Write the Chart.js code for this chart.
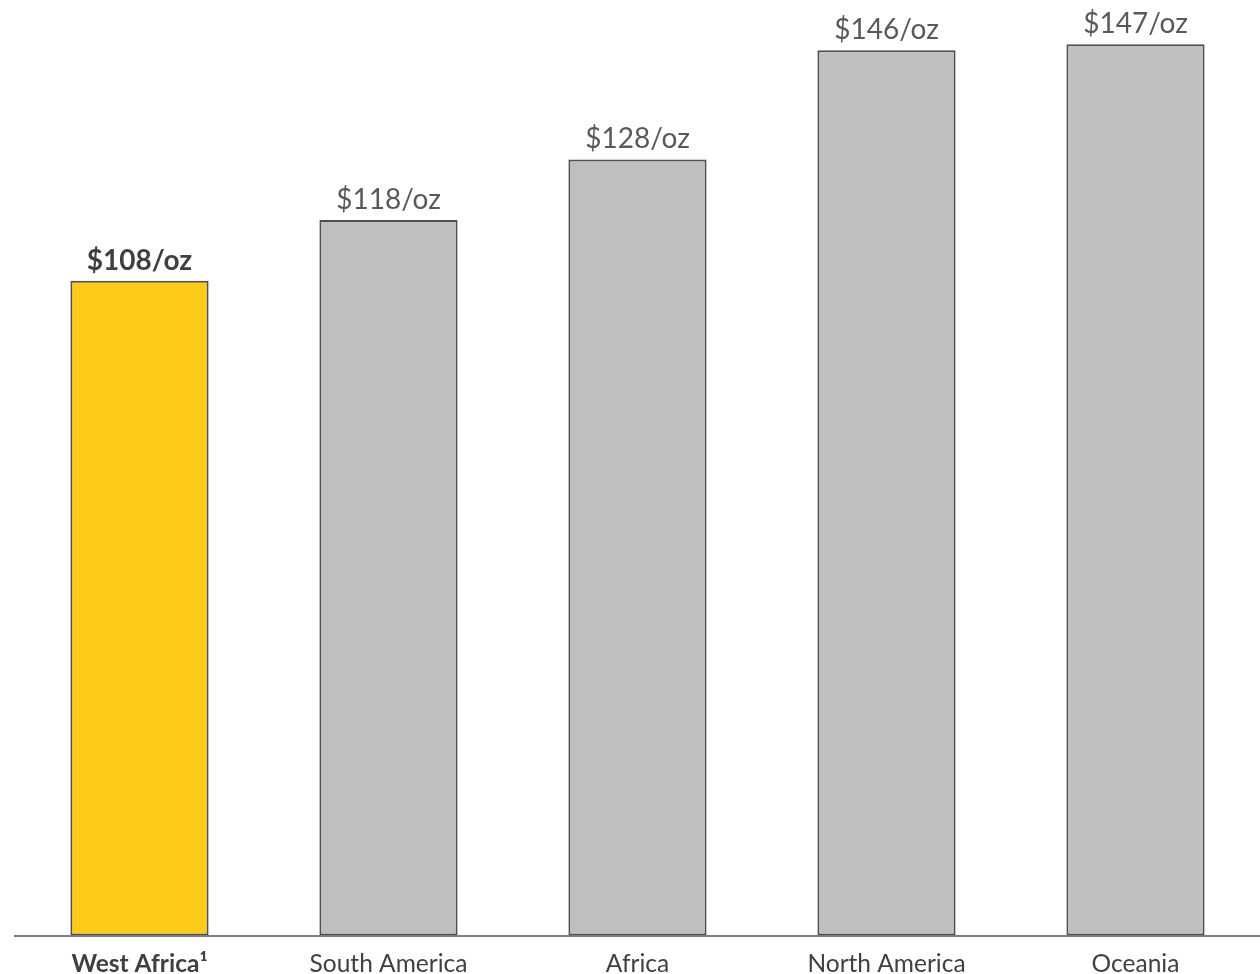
<!DOCTYPE html>
<html>
<head>
<meta charset="utf-8">
<script src="https://cdn.jsdelivr.net/npm/chart.js@4.4.1/dist/chart.umd.min.js"></script>
<style>
  html, body { margin: 0; padding: 0; background: #fff; }
  #wrap { width: 1260px; height: 974px; position: relative; }
</style>
</head>
<body>
<div id="wrap"><canvas id="costChart"></canvas></div>
<script>
// === Data ===
const regions = ['West Africa¹', 'South America', 'Africa', 'North America', 'Oceania'];
const costPerOz = [108, 118, 128, 146, 147];
const valueLabels = ['$108/oz', '$118/oz', '$128/oz', '$146/oz', '$147/oz'];

const FONT = "'Lato', 'Open Sans', sans-serif";

// value labels above each bar
const barLabels = {
    id: 'barLabels',
    afterDatasetsDraw(chart) {
        const ctx = chart.ctx;
        const meta = chart.getDatasetMeta(0);
        ctx.save();
        ctx.textAlign = 'center';
        ctx.textBaseline = 'alphabetic';
        meta.data.forEach((bar, i) => {
            ctx.font = (i === 0 ? 'bold ' : '') + '28px ' + FONT;
            ctx.fillStyle = i === 0 ? '#404040' : '#595959';
            ctx.fillText(valueLabels[i], bar.x, bar.y - 11);
        });
        ctx.restore();
    }
};

new Chart(document.getElementById('costChart'), {
    type: 'bar',
    data: {
        labels: regions,
        datasets: [{
            data: costPerOz,
            backgroundColor: costPerOz.map((v, i) => i === 0 ? '#FFCA18' : '#BFBFBF'),
            borderColor: '#505050',
            borderWidth: 2,
            borderSkipped: false,
            categoryPercentage: 1,
            barPercentage: 0.555
        }]
    },
    options: {
        responsive: true,
        maintainAspectRatio: false,
        animation: false,
        layout: { padding: { top: 26, left: 15, right: 0, bottom: -11 } },
        plugins: {
            legend: { display: false },
            tooltip: { enabled: false }
        },
        scales: {
            x: {
                grid: { display: false },
                border: { display: true, color: '#808080', width: 2 },
                ticks: {
                    color: '#404040',
                    padding: 6,
                    maxRotation: 0,
                    font: c => ({ family: FONT, size: 24.5, weight: c.index === 0 ? 'bold' : 'normal' })
                }
            },
            y: {
                display: false,
                min: 0,
                max: 150
            }
        }
    },
    plugins: [barLabels]
});
</script>
</body>
</html>
